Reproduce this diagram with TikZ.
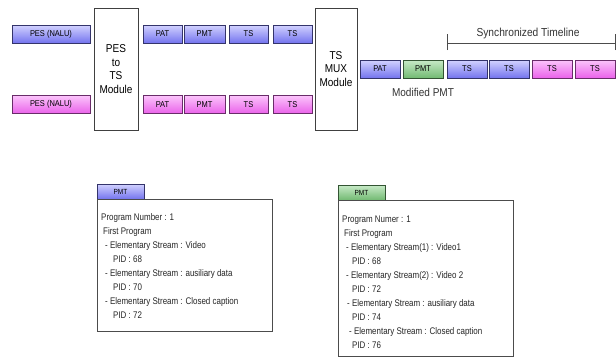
\documentclass[tikz,border=0pt]{standalone}
\usepackage{fontspec}
\setmainfont{Liberation Sans}[FakeStretch=0.88]
\newfontfamily\pmtfont{Liberation Sans}[FakeStretch=0.83]
\begin{document}
\begin{tikzpicture}[x=1pt,y=-1pt,
  pkt/.style={draw=#1!45!black, line width=0.8pt, minimum height=18pt, inner sep=0pt,
              font=\fontsize{8.5}{9}\selectfont},
  bluepkt/.style={pkt=bluedk, top color=bluelt, bottom color=bluedk},
  pinkpkt/.style={pkt=pinkdk, top color=pinklt, bottom color=pinkdk},
  greenpkt/.style={pkt=greendk, top color=greenlt, bottom color=greendk},
  module/.style={draw=black!75, line width=0.8pt, fill=white, align=center, inner sep=0pt,
                 font=\fontsize{11.4}{13.8}\selectfont},
  panel/.style={draw=black!70, line width=0.8pt, fill=white},
  ptxt/.style={anchor=base west, inner sep=0pt, font=\pmtfont\fontsize{9.6}{10}\selectfont, text=black!85},
  lbl/.style={inner sep=0pt, font=\fontsize{11}{12}\selectfont, text=black!80}
]
\definecolor{bluelt}{HTML}{D2D2FF}
\definecolor{bluedk}{HTML}{7474EE}
\definecolor{pinklt}{HTML}{FBC4FB}
\definecolor{pinkdk}{HTML}{EA62EA}
\definecolor{greenlt}{HTML}{C8EAC8}
\definecolor{greendk}{HTML}{72BA72}
\useasboundingbox (0,0) rectangle (616,360);

% input elementary streams
\node[bluepkt, minimum width=78pt] (pesA) at (51,34) {PES (NALU)};
\node[pinkpkt, minimum width=78pt] (pesB) at (51,104.5) {PES (NALU)};

% packetiser
\node[module, minimum width=44pt, minimum height=122pt] (pes2ts) at (116,69)
  {PES\\to\\TS\\Module};

% transport packets of each stream
\node[bluepkt, minimum width=39pt] (patA) at (162.5,34) {PAT};
\node[bluepkt, minimum width=41pt] (pmtA) at (204.5,34) {PMT};
\node[bluepkt, minimum width=39pt] (tsA1) at (248.5,34) {TS};
\node[bluepkt, minimum width=39pt] (tsA2) at (292.5,34) {TS};
\node[pinkpkt, minimum width=39pt] (patB) at (162.5,104.5) {PAT};
\node[pinkpkt, minimum width=41pt] (pmtB) at (204.5,104.5) {PMT};
\node[pinkpkt, minimum width=39pt] (tsB1) at (248.5,104.5) {TS};
\node[pinkpkt, minimum width=39pt] (tsB2) at (292.5,104.5) {TS};

% multiplexer
\node[module, minimum width=42pt, minimum height=122pt] (mux) at (336,69)
  {TS\\MUX\\Module};

% multiplexed output
\node[bluepkt, minimum width=40pt] (patM) at (380,69) {PAT};
\node[greenpkt, minimum width=40pt] (pmtM) at (423,69) {PMT};
\node[bluepkt, minimum width=40pt] (tsM1) at (467,69) {TS};
\node[bluepkt, minimum width=40pt] (tsM2) at (509,69) {TS};
\node[pinkpkt, minimum width=40pt] (tsM3) at (552,69) {TS};
\node[pinkpkt, minimum width=40pt] (tsM4) at (595,69) {TS};
\node[lbl, font=\fontsize{11.4}{12}\selectfont] (modpmt) at (423,92) {Modified PMT};

% synchronized timeline bracket
\coordinate (tlA) at (447,43);
\coordinate (tlB) at (615,43);
\draw[black!70, line width=0.8pt] (tlA) -- (tlB)
  ([yshift=-7pt]tlA) -- ([yshift=9pt]tlA)
  ([yshift=-7pt]tlB) -- ([yshift=9pt]tlB);
\node[lbl, font=\fontsize{11.6}{12}\selectfont] (tlbl) at (528,33) {Synchronized Timeline};

% original PMT
\node[bluepkt, minimum width=47pt, minimum height=15pt, font=\fontsize{7.4}{8}\selectfont] (tabL) at (120.5,191.5) {PMT};
\draw[panel] (97,199) rectangle (272,331);
\node[ptxt] (l1) at (101,220) {Program Number : 1};
\node[ptxt] (l2) at (103,234) {First Program};
\node[ptxt] (l3) at (105,248) {- Elementary Stream : Video};
\node[ptxt] (l4) at (113,262) {PID : 68};
\node[ptxt] (l5) at (105,276) {- Elementary Stream : ausiliary data};
\node[ptxt] (l6) at (113,290) {PID : 70};
\node[ptxt] (l7) at (105,304) {- Elementary Stream : Closed caption};
\node[ptxt] (l8) at (113,318) {PID : 72};

% modified PMT
\node[greenpkt, minimum width=47pt, minimum height=15pt, font=\fontsize{7.4}{8}\selectfont] (tabR) at (361.5,192.5) {PMT};
\draw[panel] (338,200) rectangle (513,356);
\node[ptxt] (r1) at (342,222) {Program Numer : 1};
\node[ptxt] (r2) at (344,236) {First Program};
\node[ptxt] (r3) at (346,250) {- Elementary Stream(1) : Video1};
\node[ptxt] (r4) at (352,264) {PID : 68};
\node[ptxt] (r5) at (346,278) {- Elementary Stream(2) : Video 2};
\node[ptxt] (r6) at (352,292) {PID : 72};
\node[ptxt] (r7) at (347,306) {- Elementary Stream : ausiliary data};
\node[ptxt] (r8) at (352,320) {PID : 74};
\node[ptxt] (r9) at (349,334) {- Elementary Stream : Closed caption};
\node[ptxt] (r10) at (352,348) {PID : 76};
\end{tikzpicture}
\end{document}
